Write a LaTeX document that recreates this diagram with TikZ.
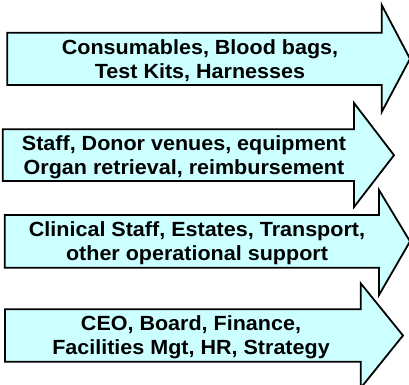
\documentclass[tikz,border=0pt]{standalone}
\usepackage{fontspec}
\setmainfont{Liberation Sans}
\newfontfamily\labelfont[FakeStretch=1.05]{Liberation Sans}
\definecolor{arrowfill}{HTML}{CCFFFF}
\tikzset{
  flowarrow/.style={draw=black, fill=arrowfill, line width=1.8pt, line join=miter},
  flowtext/.style={align=center, inner sep=0pt, text=black,
    font=\labelfont\fontsize{20.5}{24}\selectfont\bfseries}
}
\begin{document}
\begin{tikzpicture}[x=1pt,y=-1pt]
  \useasboundingbox (0,0) rectangle (409,384);
  \fill[white] (0,0) rectangle (409,384);
  \clip (0,0) rectangle (409,384);

  % four block arrows: body from the left edge, head on the right
  \draw[flowarrow] (7.3,32.7) -- (381.7,32.7) -- (381.7,5) -- (410,58.8)
        -- (381.7,112) -- (381.7,85) -- (7.3,85) -- cycle;
  \draw[flowarrow] (2.7,129.3) -- (354,129.3) -- (354,103) -- (394,155.2)
        -- (354,207) -- (354,181) -- (2.7,181) -- cycle;
  \draw[flowarrow] (4.7,215) -- (379,215) -- (379,190) -- (410,241.4)
        -- (379,295) -- (379,267.7) -- (4.7,267.7) -- cycle;
  \draw[flowarrow] (5,309.3) -- (360.7,309.3) -- (360.7,283.3) -- (403,335.5)
        -- (360.7,388) -- (360.7,361.7) -- (5,361.7) -- cycle;

  % labels
  \node[flowtext] (consumables) at (200,61.5)
    {\strut Consumables, Blood bags,\\\strut Test Kits, Harnesses};
  \node[flowtext] (staff) at (184,157.7)
    {\strut Staff, Donor venues, equipment\\\strut Organ retrieval, reimbursement};
  \node[flowtext] (clinical) at (197,243.9)
    {\strut Clinical Staff, Estates, Transport,\\\strut other operational support};
  \node[flowtext] (ceo) at (191,338)
    {\strut CEO, Board, Finance,\\\strut Facilities Mgt, HR, Strategy};
\end{tikzpicture}
\end{document}
